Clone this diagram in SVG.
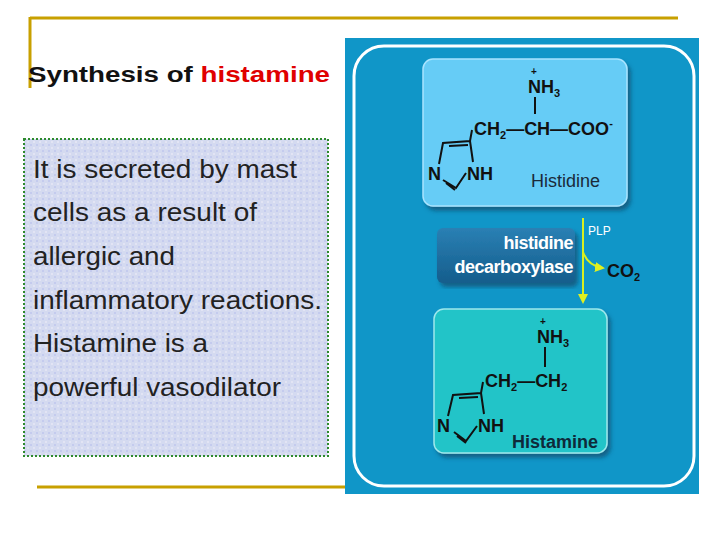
<svg xmlns="http://www.w3.org/2000/svg" width="720" height="540" viewBox="0 0 720 540">
<defs>
<style>
.gold{stroke:#c8a000;stroke-width:3;fill:none}
.body{font-family:"Liberation Sans",Arial,sans-serif;font-size:25px;fill:#222}
.chem{font-family:"Liberation Sans",Arial,sans-serif;font-size:18px;fill:#111;font-weight:bold}
.plus{font-family:"Liberation Sans",Arial,sans-serif;font-size:10px;fill:#111;font-weight:bold}
.sub{font-size:11px}
.bond{stroke:#111;stroke-width:2;fill:none}
</style>
<pattern id="tex" width="6" height="6" patternUnits="userSpaceOnUse">
<rect width="6" height="6" fill="#d4daf0"/>
<rect x="0" y="0" width="2" height="2" fill="#c4cbee"/>
<rect x="3" y="3" width="2" height="2" fill="#e2e4f4"/>
</pattern>
<linearGradient id="enz" x1="0" y1="0" x2="0" y2="1">
<stop offset="0" stop-color="#2a80b4"/><stop offset="1" stop-color="#155d8c"/>
</linearGradient>
<filter id="sh"><feDropShadow dx="3" dy="4" stdDeviation="2" flood-color="#0a3a5a" flood-opacity="0.6"/></filter>
<marker id="ah" viewBox="0 0 10 10" refX="8" refY="5" markerWidth="5" markerHeight="5" orient="auto"><path d="M0,0L10,5L0,10z" fill="#e0f020"/></marker>
</defs>
<rect width="720" height="540" fill="#fff"/>
<g id="frame">
<line class="gold" x1="30" y1="18" x2="678" y2="18"/>
<line class="gold" x1="30" y1="17" x2="30" y2="88"/>
<line class="gold" x1="37" y1="487" x2="345" y2="487"/>
</g>
<g id="title"><text x="28" y="82" font-family="Liberation Sans,Arial,sans-serif" font-size="22" font-weight="bold" fill="#111" textLength="302" lengthAdjust="spacingAndGlyphs">Synthesis of <tspan fill="#e00000">histamine</tspan></text></g>
<g id="textbox">
<rect x="24" y="139" width="304" height="317" fill="url(#tex)" stroke="#2e8a2e" stroke-width="2" stroke-dasharray="2,2"/>
<text class="body" x="33" y="178" textLength="264" lengthAdjust="spacingAndGlyphs">It is secreted by mast</text>
<text class="body" x="33" y="221" textLength="224" lengthAdjust="spacingAndGlyphs">cells as a result of</text>
<text class="body" x="33" y="265" textLength="142" lengthAdjust="spacingAndGlyphs">allergic and</text>
<text class="body" x="33" y="309" textLength="289" lengthAdjust="spacingAndGlyphs">inflammatory reactions.</text>
<text class="body" x="33" y="352" textLength="175" lengthAdjust="spacingAndGlyphs">Histamine is a</text>
<text class="body" x="33" y="396" textLength="248" lengthAdjust="spacingAndGlyphs">powerful vasodilator</text>
</g>
<g id="panel">
<rect x="345" y="38" width="354" height="456" fill="#1096c8"/>
<rect x="354" y="46" width="340" height="440" rx="30" fill="none" stroke="#fff" stroke-width="3"/>
</g>
<g id="histidine">
<rect x="423" y="59" width="204" height="147" rx="10" fill="#66ccf6" stroke="#a8e4ff" stroke-width="1.5" filter="url(#sh)"/>
<text class="chem" x="528" y="93">NH<tspan class="sub" dy="4">3</tspan></text>
<text class="plus" x="531" y="75">+</text>
<line class="bond" x1="535" y1="97" x2="535" y2="114"/>
<text class="chem" x="474" y="135">CH<tspan class="sub" dy="4">2</tspan><tspan dy="-4">—CH—COO</tspan><tspan class="sub" dy="-8">-</tspan></text>
<path class="bond" d="M472,130 L470,141 L443,143 L439,164 M449,146 L468,145 M470,141 L473,162 M466,173 L456,188 L443,180 M446,183 L455,190"/>
<text class="chem" x="428" y="180">N</text>
<text class="chem" x="467" y="180">NH</text>
<text x="531" y="187" font-family="Liberation Sans,Arial,sans-serif" font-size="18" fill="#1a2a3a">Histidine</text>
</g>
<g id="enzyme">
<rect x="437" y="228" width="138" height="55" rx="6" fill="url(#enz)" filter="url(#sh)"/>
<text x="573" y="249" text-anchor="end" font-family="Liberation Sans,Arial,sans-serif" font-size="18" fill="#fff" font-weight="bold" letter-spacing="-0.5">histidine</text>
<text x="573" y="273" text-anchor="end" font-family="Liberation Sans,Arial,sans-serif" font-size="18" fill="#fff" font-weight="bold" letter-spacing="-0.5">decarboxylase</text>
</g>
<g id="connectors">
<line x1="583" y1="218" x2="583" y2="302" stroke="#d8f020" stroke-width="2" marker-end="url(#ah)"/>
<path d="M583,252 Q588,266 603,268" stroke="#d8f020" stroke-width="2" fill="none" marker-end="url(#ah)"/>
<text x="588" y="235" font-family="Liberation Sans,Arial,sans-serif" font-size="12" fill="#fff">PLP</text>
<text class="chem" x="607" y="277">CO<tspan class="sub" dy="4">2</tspan></text>
</g>
<g id="histamine">
<rect x="434" y="309" width="173" height="144" rx="10" fill="#22c4c8" stroke="#9ee8ec" stroke-width="1.5" filter="url(#sh)"/>
<text class="chem" x="537" y="343">NH<tspan class="sub" dy="4">3</tspan></text>
<text class="plus" x="540" y="325">+</text>
<line class="bond" x1="545" y1="347" x2="545" y2="367"/>
<text class="chem" x="485" y="387">CH<tspan class="sub" dy="4">2</tspan><tspan dy="-4">—CH</tspan><tspan class="sub" dy="4">2</tspan></text>
<path class="bond" d="M483,382 L481,393 L453,395 L448,416 M459,398 L478,397 M481,393 L484,414 M477,426 L466,441 L454,432 M457,436 L466,443"/>
<text class="chem" x="437" y="432">N</text>
<text class="chem" x="478" y="432">NH</text>
<text x="512" y="448" font-family="Liberation Sans,Arial,sans-serif" font-size="18" font-weight="bold" fill="#0e2a3a">Histamine</text>
</g>
</svg>
